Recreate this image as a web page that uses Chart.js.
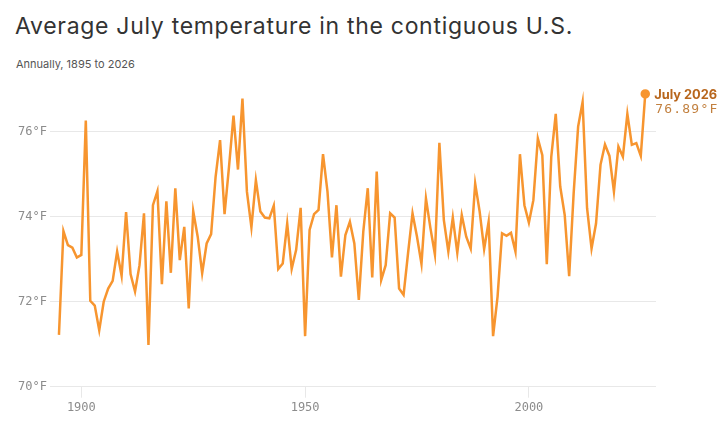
<!DOCTYPE html>
<html>
<head>
<meta charset="utf-8">
<script src="https://cdn.jsdelivr.net/npm/chart.js@4/dist/chart.umd.min.js"></script>
<style>
  html, body { margin: 0; padding: 0; background: #fff; }
  #wrap { position: relative; width: 727px; height: 445px; overflow: hidden; }
  #title { position: absolute; left: 15px; top: 12px; font: 23px Inter, "Noto Sans", sans-serif; color: #333; letter-spacing: 0.7px; white-space: nowrap; }
  #subtitle { position: absolute; left: 16px; top: 57px; font: 11px Inter, "Noto Sans", sans-serif; color: #555; white-space: nowrap; }
  canvas { position: absolute; left: 0; top: 0; }
</style>
</head>
<body>
<div id="wrap">
  <div id="title">Average July temperature in the contiguous U.S.</div>
  <div id="subtitle">Annually, 1895 to 2026</div>
  <canvas id="chart" width="727" height="445"></canvas>
</div>
<script>
// average July temperature, °F
const years = [];
for (let y = 1895; y <= 2026; y++) years.push(y);

const temps = [
  71.22, 73.66, 73.33, 73.27, 73.04, 73.10, 76.26, 72.02, 71.91, 71.33,
  72.00, 72.31, 72.49, 73.18, 72.61, 74.11, 72.65, 72.24, 72.86, 74.08,
  70.98, 74.27, 74.60, 72.41, 74.36, 72.68, 74.67, 72.98, 73.76, 71.84,
  74.13, 73.53, 72.67, 73.37, 73.59, 74.94, 75.80, 74.06, 75.18, 76.38,
  75.11, 76.78, 74.59, 73.75, 74.86, 74.12, 73.98, 73.96, 74.26, 72.77,
  72.90, 73.84, 72.77, 73.22, 74.21, 71.19, 73.69, 74.06, 74.16, 75.47,
  74.59, 73.04, 74.27, 72.59, 73.57, 73.88, 73.37, 72.04, 73.65, 74.67,
  72.57, 75.06, 72.51, 72.86, 74.08, 73.98, 72.31, 72.16, 73.14, 74.08,
  73.53, 72.89, 74.43, 73.73, 73.11, 75.74, 73.92, 73.18, 73.98, 73.15,
  74.04, 73.53, 73.25, 74.78, 74.12, 73.24, 73.88, 71.19, 72.12, 73.61,
  73.55, 73.62, 73.18, 75.47, 74.27, 73.86, 74.39, 75.84, 75.45, 72.88,
  75.41, 76.42, 74.71, 74.04, 72.60, 74.55, 76.12, 76.70, 74.20, 73.25,
  73.84, 75.22, 75.70, 75.43, 74.59, 75.65, 75.41, 76.42, 75.69, 75.73,
  75.43, 76.89
];

const xTicks = [1900, 1950, 2000];
const yTicks = [70, 72, 74, 76];

const lineColor = '#f7952f';
const gridColor = '#e8e8e8';
const tickColor = '#8c8c8c';
const monoFont = '"DejaVu Sans Mono", "Liberation Mono", monospace';

const points = years.map((y, i) => ({ x: y, y: temps[i] }));
const last = points.length - 1;

// label next to the last point
const lastLabel = {
  id: 'lastLabel',
  afterDatasetsDraw(chart) {
    const el = chart.getDatasetMeta(0).data[last];
    const ctx = chart.ctx;
    ctx.save();
    ctx.textAlign = 'left';
    ctx.textBaseline = 'middle';
    ctx.fillStyle = '#b8661c';
    ctx.font = 'bold 12.8px Inter, "Noto Sans", sans-serif';
    ctx.fillText('July ' + years[last], el.x + 9, el.y + 1);
    ctx.fillStyle = '#c2803f';
    ctx.font = '13px ' + monoFont;
    ctx.letterSpacing = '1.2px';
    ctx.fillText(temps[last].toFixed(2) + '°F', el.x + 10, el.y + 16);
    ctx.restore();
  }
};

new Chart(document.getElementById('chart').getContext('2d'), {
  type: 'line',
  data: {
    datasets: [{
      data: points,
      borderColor: lineColor,
      backgroundColor: lineColor,
      borderWidth: 2.5,
      tension: 0,
      pointRadius: (ctx) => (ctx.dataIndex === last ? 3.5 : 0),
      pointHoverRadius: 0,
      clip: false
    }]
  },
  options: {
    responsive: false,
    animation: false,
    events: [],
    layout: { padding: { top: 89.2, right: 71, bottom: 28.3, left: 0 } },
    plugins: { legend: { display: false }, tooltip: { enabled: false } },
    scales: {
      x: {
        type: 'linear',
        min: 1893,
        max: 2028.4,
        afterBuildTicks: (scale) => { scale.ticks = xTicks.map(v => ({ value: v })); },
        afterFit: (scale) => { scale.height = 30; },
        border: { display: false },
        grid: { drawOnChartArea: false, drawTicks: true, tickLength: 11, color: gridColor },
        ticks: { color: tickColor, font: { family: monoFont, size: 12 }, padding: 3, maxRotation: 0, callback: v => String(v) }
      },
      y: {
        min: 70,
        max: 77,
        afterBuildTicks: (scale) => { scale.ticks = yTicks.map(v => ({ value: v })); },
        afterFit: (scale) => { scale.width = 50; },
        border: { display: false },
        grid: { color: gridColor, drawTicks: false },
        ticks: { color: tickColor, font: { family: monoFont, size: 12 }, padding: 3, callback: v => v + '°F' }
      }
    }
  },
  plugins: [lastLabel]
});
</script>
</body>
</html>
